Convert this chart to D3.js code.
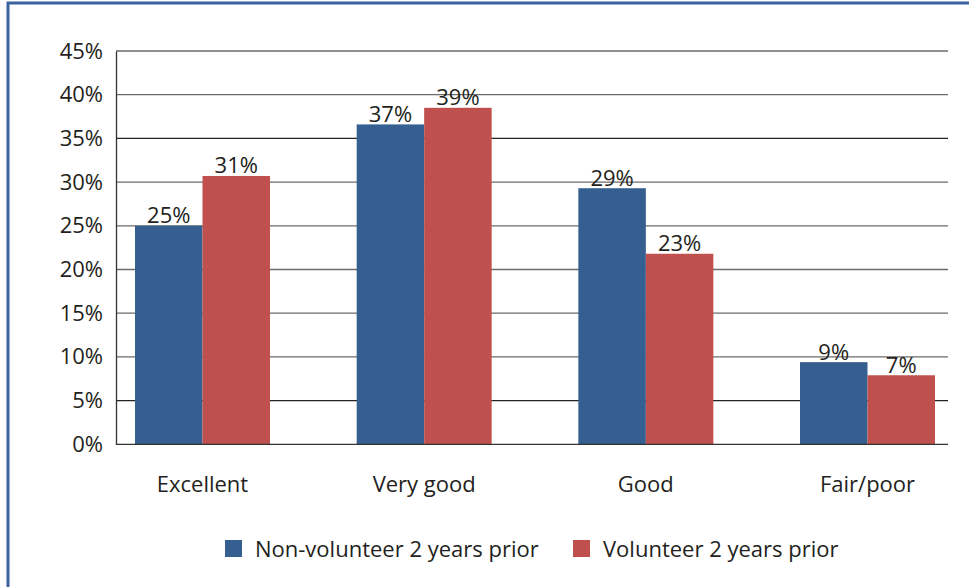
<!DOCTYPE html>
<html>
<head>
<meta charset="utf-8">
<script src="https://cdn.jsdelivr.net/npm/d3@7"></script>
<style>
  body { margin: 0; background: #fff; }
  svg { display: block; }
  text { font-family: "Open Sans", "Noto Sans", sans-serif; fill: #231f20; }
</style>
</head>
<body>
<svg id="chart" width="969" height="587"></svg>
<script>
var categories = ["Excellent", "Very good", "Good", "Fair/poor"];
var seriesNames = ["Non-volunteer 2 years prior", "Volunteer 2 years prior"];
var nonVolunteer = [25.0, 36.6, 29.3, 9.4];
var volunteer = [30.7, 38.5, 21.8, 7.9];
var nonVolunteerLabels = ["25%", "37%", "29%", "9%"];
var volunteerLabels = ["31%", "39%", "23%", "7%"];
var yTicks = [0, 5, 10, 15, 20, 25, 30, 35, 40, 45];
var colors = ["#355e91", "#c0504d"];

var fontSize = 22;
var svg = d3.select("#chart");

// blue frame round the whole figure
svg.append("rect")
  .attr("x", 8).attr("y", 3)
  .attr("width", 1000).attr("height", 700)
  .attr("fill", "none")
  .attr("stroke", "#3a64a0")
  .attr("stroke-width", 3);

var plotLeft = 116, plotRight = 948, plotTop = 51, plotBottom = 444.3;

var y = d3.scaleLinear().domain([0, 45]).range([plotBottom, plotTop]);

var x0 = d3.scaleBand()
  .domain(categories)
  .range([135, 935])
  .paddingInner(0.391)
  .paddingOuter(0);

var x1 = d3.scaleBand()
  .domain([0, 1])
  .range([0, x0.bandwidth()]);

// gridlines
svg.append("g")
  .selectAll("line")
  .data(yTicks.filter(function(t) { return t > 0; }))
  .enter()
  .append("line")
  .attr("x1", plotLeft).attr("x2", plotRight)
  .attr("y1", function(t) { return y(t); })
  .attr("y2", function(t) { return y(t); })
  .attr("stroke", function(t) { return t == 35 || t == 5 ? "#222" : "#6b6b6b"; })
  .attr("stroke-width", 1.3);

// y axis
var yAxis = d3.axisLeft(y)
  .tickValues(yTicks)
  .tickSize(0)
  .tickPadding(13)
  .tickFormat(function(d) { return d + "%"; });

var yg = svg.append("g")
  .attr("transform", "translate(" + plotLeft + ",0)")
  .call(yAxis);
yg.select(".domain").attr("stroke", "#333").attr("stroke-width", 1.3);
yg.selectAll("text")
  .attr("font-size", fontSize)
  .attr("font-family", "'Open Sans', 'Noto Sans', sans-serif")
  .attr("fill", "#231f20");

// bars
var rows = categories.map(function(c, i) {
  return {
    cat: c,
    vals: [
      {s: 0, v: nonVolunteer[i], label: nonVolunteerLabels[i]},
      {s: 1, v: volunteer[i], label: volunteerLabels[i]}
    ]
  };
});

var groups = svg.append("g")
  .selectAll("g")
  .data(rows)
  .enter()
  .append("g")
  .attr("transform", function(d) { return "translate(" + x0(d.cat) + ",0)"; });

groups.selectAll("rect")
  .data(function(d) { return d.vals; })
  .enter()
  .append("rect")
  .attr("x", function(d) { return x1(d.s); })
  .attr("width", x1.bandwidth())
  .attr("y", function(d) { return y(d.v); })
  .attr("height", function(d) { return plotBottom - y(d.v); })
  .attr("fill", function(d) { return colors[d.s]; });

groups.selectAll("text")
  .data(function(d) { return d.vals; })
  .enter()
  .append("text")
  .attr("x", function(d) { return x1(d.s) + x1.bandwidth() / 2; })
  .attr("y", function(d) { return y(d.v) - 2.5; })
  .attr("text-anchor", "middle")
  .attr("font-size", fontSize)
  .text(function(d) { return d.label; });

// x axis baseline
svg.append("line")
  .attr("x1", plotLeft).attr("x2", plotRight)
  .attr("y1", plotBottom).attr("y2", plotBottom)
  .attr("stroke", "#333").attr("stroke-width", 1.3);

// category labels
svg.append("g")
  .selectAll("text")
  .data(categories)
  .enter()
  .append("text")
  .attr("x", function(c) { return x0(c) + x0.bandwidth() / 2; })
  .attr("y", 492)
  .attr("text-anchor", "middle")
  .attr("font-size", fontSize)
  .text(function(c) { return c; });

// legend
var legendX = [225, 573];
var legend = svg.append("g")
  .selectAll("g")
  .data(seriesNames)
  .enter()
  .append("g")
  .attr("transform", function(d, i) { return "translate(" + legendX[i] + ",540)"; });

legend.append("rect")
  .attr("width", 17).attr("height", 17)
  .attr("fill", function(d, i) { return colors[i]; });

legend.append("text")
  .attr("x", 30).attr("y", 17)
  .attr("font-size", fontSize)
  .text(function(d) { return d; });
</script>
</body>
</html>
